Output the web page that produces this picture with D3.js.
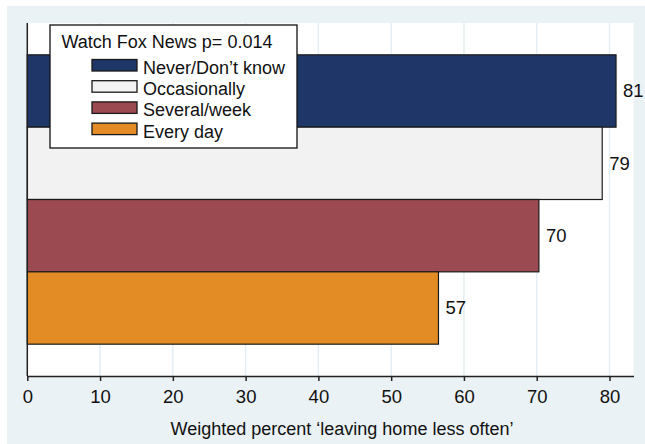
<!DOCTYPE html>
<html>
<head>
<meta charset="utf-8">
<script src="https://cdn.jsdelivr.net/npm/d3@7"></script>
<style>
  body { margin: 0; background: #fff; }
  svg text { font-family: "Liberation Sans Narrow", "Arial Narrow", "Liberation Sans", sans-serif; fill: #111; }
</style>
</head>
<body>
<div class="chart"></div>
<script>
const width = 645
const height = 444

// data
const categories = ["Never/Don\u2019t know", "Occasionally", "Several/week", "Every day"]
const values = [80.9, 79.0, 70.3, 56.5]
const barColors = ["#1e3668", "#f2f2f2", "#9c4a51", "#e38c26"]
const xTicks = [0, 10, 20, 30, 40, 50, 60, 70, 80]
const legendTitle = "Watch Fox News p= 0.014"
const xTitle = "Weighted percent \u2018leaving home less often\u2019"

const data = categories.map((c, i) => ({cat: c, value: values[i], color: barColors[i]}))

const plot = {left: 27.3, right: 633.5, top: 23, bottom: 376}

const x = d3.scaleLinear()
  .domain([0, 83.3])
  .range([plot.left, plot.right])

const y = d3.scaleBand()
  .domain(categories)
  .range([plot.top, plot.bottom])
  .paddingInner(0)
  .paddingOuter(0.44)

const svg = d3.create("svg")
  .attr("width", width)
  .attr("height", height)
  .attr("viewBox", [0, 0, width, height])

// outer light-blue graph region
svg.append("rect")
  .attr("x", 7).attr("y", 6)
  .attr("width", width - 7).attr("height", height - 6)
  .attr("fill", "#eaf2f5")

// white plot region
svg.append("rect")
  .attr("x", plot.left).attr("y", plot.top)
  .attr("width", plot.right - plot.left).attr("height", plot.bottom - plot.top)
  .attr("fill", "#fff")

// gridlines
svg.append("g")
  .selectAll("line")
  .data(xTicks.slice(1))
  .join("line")
  .attr("x1", d => x(d)).attr("x2", d => x(d))
  .attr("y1", plot.top).attr("y2", plot.bottom)
  .attr("stroke", "#e4eef3")
  .attr("stroke-width", 1.5)

// bars
svg.append("g")
  .selectAll("rect")
  .data(data)
  .join("rect")
  .attr("x", x(0))
  .attr("y", d => y(d.cat))
  .attr("width", d => x(d.value) - x(0))
  .attr("height", y.bandwidth())
  .attr("fill", d => d.color)
  .attr("stroke", "#1a1a1a")
  .attr("stroke-width", 1.2)

// value labels
svg.append("g")
  .selectAll("text")
  .data(data)
  .join("text")
  .attr("x", d => x(d.value) + 7)
  .attr("y", d => y(d.cat) + y.bandwidth() / 2)
  .attr("dy", "0.35em")
  .style("font-size", "18.5px")
  .text(d => d3.format(".0f")(d.value))

// x axis
const xAxis = svg.append("g")
  .attr("transform", `translate(0, ${plot.bottom})`)
  .call(d3.axisBottom(x).tickValues(xTicks).tickSize(5).tickPadding(9).tickSizeOuter(0))
xAxis.attr("font-family", null).attr("font-size", null)
xAxis.select(".domain").attr("stroke", "#222").attr("stroke-width", 1.5)
xAxis.selectAll(".tick line").attr("stroke", "#222").attr("stroke-width", 1.5)
xAxis.selectAll("text")
  .style("font-size", "18.5px")
  .attr("fill", "#111")

// y axis line
svg.append("line")
  .attr("x1", plot.left).attr("x2", plot.left)
  .attr("y1", plot.top).attr("y2", plot.bottom)
  .attr("stroke", "#222")
  .attr("stroke-width", 1.5)

// x axis title
svg.append("text")
  .attr("x", 342)
  .attr("y", 435)
  .attr("text-anchor", "middle")
  .style("font-size", "18px")
  .text(xTitle)

// legend
const legend = svg.append("g").attr("transform", "translate(50, 25)")

legend.append("rect")
  .attr("width", 247).attr("height", 123)
  .attr("fill", "#fff")
  .attr("stroke", "#111")
  .attr("stroke-width", 1.3)

legend.append("text")
  .attr("x", 11.5).attr("y", 22.7)
  .style("font-size", "18px")
  .text(legendTitle)

const rows = legend.selectAll(".row")
  .data(data)
  .join("g")
  .attr("class", "row")
  .attr("transform", (d, i) => `translate(42, ${34.5 + i * 21.2})`)

rows.append("rect")
  .attr("width", 45).attr("height", 11.5)
  .attr("fill", d => d.color)
  .attr("stroke", "#1a1a1a")
  .attr("stroke-width", 1.3)

rows.append("text")
  .attr("x", 51).attr("y", 14.5)
  .style("font-size", "18px")
  .text(d => d.cat)

document.querySelector(".chart").append(svg.node())
</script>
</body>
</html>
